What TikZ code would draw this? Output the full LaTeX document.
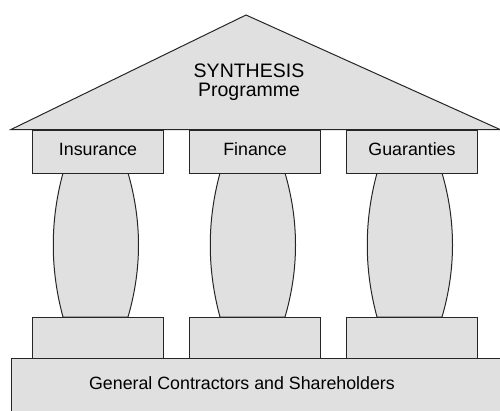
\documentclass[tikz,border=0pt]{standalone}
\usepackage{fontspec}
\setmainfont{Liberation Sans}

\tikzset{
    part/.style={draw=black!85,fill=black!12,line width=1pt},
    capital/.style={part,rectangle,inner sep=0pt,minimum width=131pt,minimum height=43pt,
        text height=12.5pt,text depth=5pt,font=\fontsize{17.8}{20}\selectfont},
    plinth/.style={part,rectangle,inner sep=0pt,minimum width=131pt,minimum height=41pt},
}

\begin{document}
\begin{tikzpicture}[x=1pt,y=-1pt]
    \useasboundingbox (0,0) rectangle (500,410);
    \clip (0,0) rectangle (500,410);

    % roof
    \draw[part] (11,129.5) coordinate (eaveL) -- (246,15) coordinate (apex)
        -- (500,129.5) coordinate (eaveR) -- cycle;
    \node[align=center,inner sep=0pt,font=\fontsize{19.5}{19}\selectfont] (title) at (249,82)
        {SYNTHESIS\\Programme};

    % pillars: shaft, capital on top, plinth below
    \foreach \n/\x/\txt in {ins/98/Insurance, fin/255/Finance, gua/412/Guaranties} {
        \draw[part] ({\x-35},173) .. controls ({\x-48},221) and ({\x-48},269) .. ({\x-35},317)
            -- ({\x+30},317) .. controls ({\x+44},269) and ({\x+44},221) .. ({\x+30},173) -- cycle;
        \node[capital] (\n-cap) at (\x,151.5) {\txt};
        \node[plinth] (\n-plinth) at (\x,337.5) {};
    }

    % foundation
    \draw[part] (11,358) rectangle (520,430);
    \node[inner sep=0pt,font=\fontsize{17.8}{20}\selectfont] (owners) at (242,383)
        {General Contractors and Shareholders};
\end{tikzpicture}
\end{document}
